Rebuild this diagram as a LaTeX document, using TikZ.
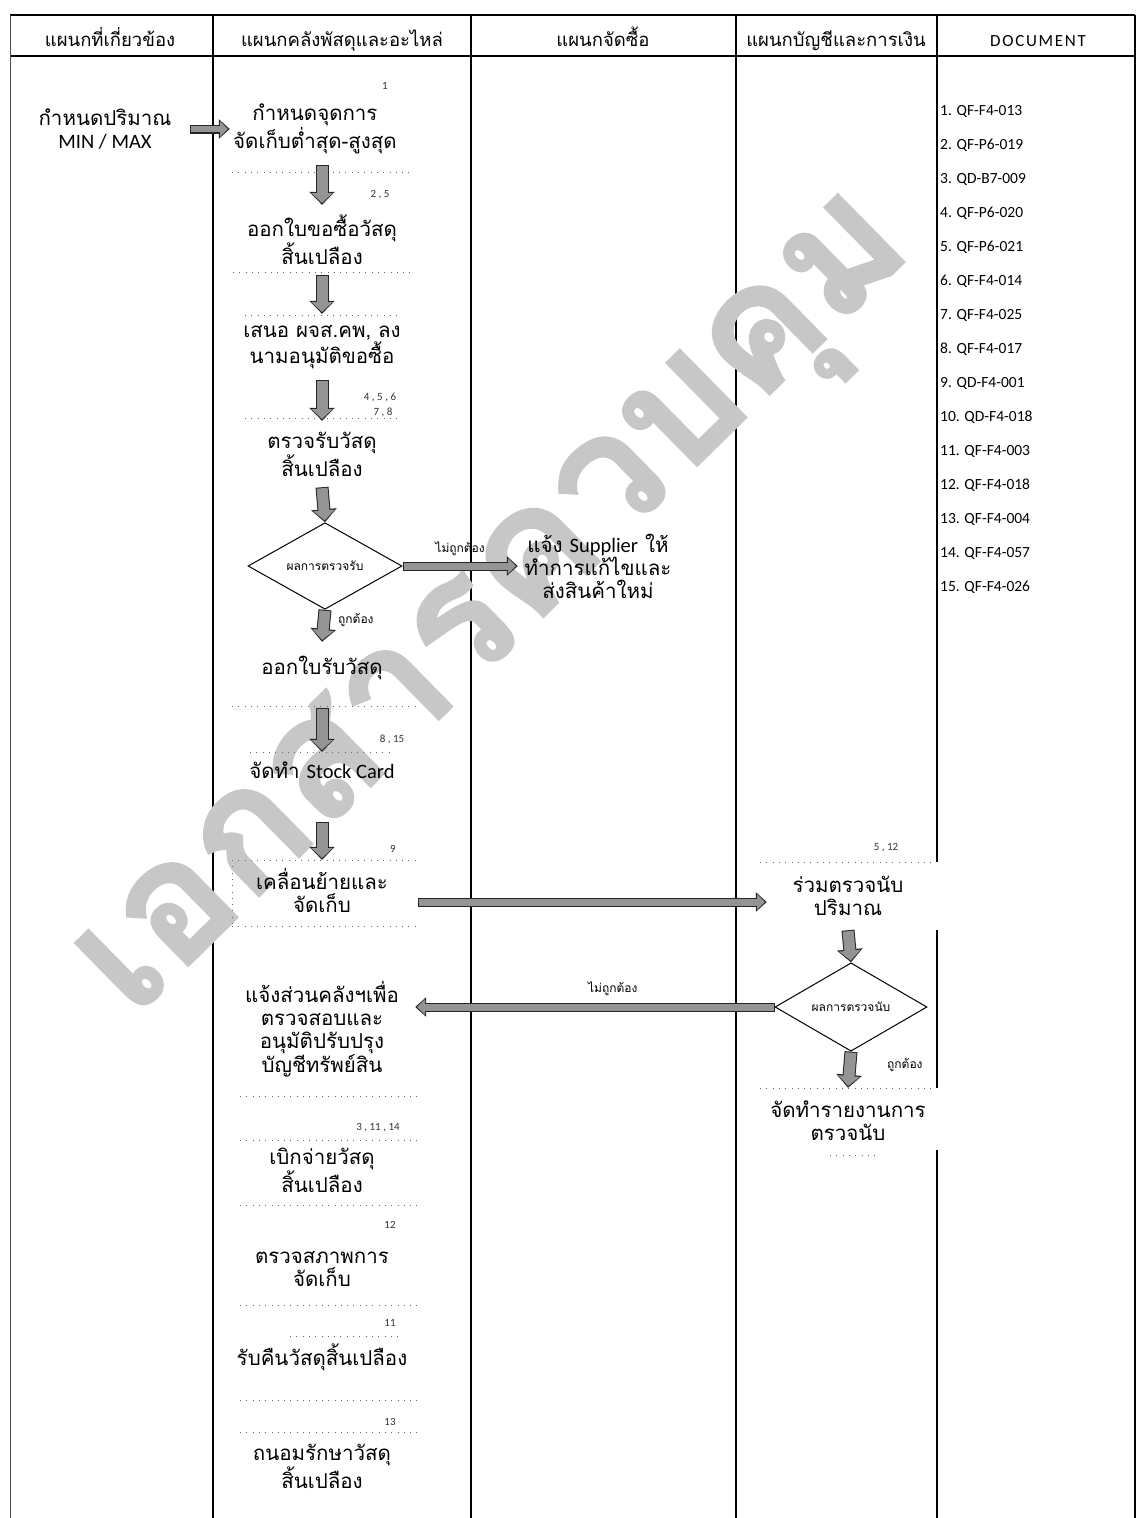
\documentclass[tikz,border=0pt]{standalone}
\usepackage{fontspec}
\setmainfont[Script=Thai]{Loma}
\newfontfamily\latinfont{Carlito}
\newfontfamily\wmfont[Script=Thai,FakeBold=1.5]{Loma}
\usetikzlibrary{shapes.geometric,arrows.meta}
\tikzset{
  txt/.style={align=center, inner sep=0pt, font=\fontsize{20.5}{23}\selectfont},
  hdr/.style={inner sep=0pt, anchor=base, font=\fontsize{18.5}{20}\selectfont},
  num/.style={inner sep=0pt, font=\latinfont\fontsize{11}{12}\selectfont, text=black!80},
  lbl/.style={inner sep=0pt, font=\fontsize{12}{14}\selectfont},
  doc/.style={anchor=west, inner sep=0pt, font=\latinfont\fontsize{15.5}{18}\selectfont},
  decision/.style={diamond, draw=black, line width=1pt, inner sep=0pt, font=\fontsize{12}{14}\selectfont},
  dots/.style={draw=black!60, line width=0.7pt, dash pattern=on 0.8pt off 5.5pt},
  vflow/.style={draw=black!42, line width=11pt, shorten <=1pt, shorten >=1.8pt,
     -{Triangle[length=10pt,width=21pt]},
     preaction={draw=black!85, line width=13pt, shorten <=0pt, shorten >=0pt,
       -{Triangle[length=13pt,width=25pt]}}},
  hflow/.style={draw=black!42, line width=7pt, shorten <=1pt, shorten >=1.8pt,
     -{Triangle[length=8pt,width=15pt]},
     preaction={draw=black!85, line width=9pt, shorten <=0pt, shorten >=0pt,
       -{Triangle[length=11pt,width=19pt]}}},
  colline/.style={draw=black, line width=1.1pt},
}
\begin{document}
\begin{tikzpicture}[x=1pt,y=-1pt]
\useasboundingbox (0,0) rectangle (1136,1518);
% table
\draw[colline] (10,15) -- (1135,15);
\draw[draw=black, line width=1.4pt] (10,56) -- (1135,56);
\draw[draw=black!70, line width=0.8pt] (10,15) -- (10,1518);
\draw[colline] (213,15) -- (213,1518);
\draw[colline] (471,15) -- (471,1518);
\draw[colline] (736,15) -- (736,1518);
\draw[colline] (937,15) -- (937,862);
\draw[colline] (937,930) -- (937,1088);
\draw[colline] (937,1150) -- (937,1518);
\draw[colline] (1135,15) -- (1135,1518);
% watermark
\node[rotate=44.5, text=black!22, font=\wmfont\fontsize{170}{170}\selectfont\bfseries] (wm) at (505,615) {เอกสารควบคุม};
% headers
\node[hdr] (h1) at (110,46) {แผนกที่เกี่ยวข้อง};
\node[hdr] (h2) at (342,46) {แผนกคลังพัสดุและอะไหล่};
\node[hdr] (h3) at (603,46) {แผนกจัดซื้อ};
\node[hdr] (h4) at (836,46) {แผนกบัญชีและการเงิน};
\node[hdr, font=\latinfont\fontsize{17}{18}\selectfont\addfontfeature{LetterSpace=10}] (h5) at (1038,46) {DOCUMENT};
% documents
\foreach \i/\t in {1/QF-F4-013,2/QF-P6-019,3/QD-B7-009,4/QF-P6-020,5/QF-P6-021,6/QF-F4-014,7/QF-F4-025,8/QF-F4-017,9/QD-F4-001,10/QD-F4-018,11/QF-F4-003,12/QF-F4-018,13/QF-F4-004,14/QF-F4-057,15/QF-F4-026}
  \node[doc] (doc\i) at (940,{111+34*(\i-1)}) {\i. \t};
% dotted box borders
\draw[dots] (232,172) -- (412,172);
\draw[dots] (233,272) -- (413,272);
\draw[dots] (245,315) -- (400,315);
\draw[dots] (245,418) -- (400,418);
\draw[dots] (232,706) -- (420,706);
\draw[dots] (250,752) -- (390,752);
\draw[dots] (232,860) -- (418,860);
\draw[dots] (232,926) -- (418,926);
\draw[dots] (232,860) -- (232,926);
\draw[dots] (240,1096) -- (420,1096);
\draw[dots] (240,1140) -- (420,1140);
\draw[dots] (240,1205) -- (420,1205);
\draw[dots] (240,1305) -- (420,1305);
\draw[dots] (290,1336) -- (400,1336);
\draw[dots] (240,1400) -- (420,1400);
\draw[dots] (240,1432) -- (420,1432);
\draw[dots] (760,862) -- (935,862);
\draw[dots] (760,1088) -- (935,1088);
\draw[dots] (830,1155) -- (880,1155);
% steps
\node[txt, minimum width=170] (minmax) at (105,129) {กำหนดปริมาณ\\{\latinfont MIN / MAX}};
\node[txt, minimum width=170, minimum height=72] (s1) at (315,129) {กำหนดจุดการ\\จัดเก็บต่ำสุด-สูงสุด};
\node[txt, minimum height=70] (s2) at (322,240) {ออกใบขอซื้อวัสดุ\\สิ้นเปลือง};
\node[txt, minimum height=66] (s3) at (322,347) {เสนอ ผจส.คพ, ลง\\นามอนุมัติขอซื้อ};
\node[txt, minimum height=66] (s4) at (322,454) {ตรวจรับวัสดุ\\สิ้นเปลือง};
\node[decision, minimum width=154, minimum height=72] (d1) at (325,566) {ผลการตรวจรับ};
\node[txt, minimum width=160] (sup) at (598,566) {แจ้ง {\latinfont Supplier} ให้\\ทำการแก้ไขและ\\ส่งสินค้าใหม่};
\node[txt, minimum height=52] (s5) at (322,668) {ออกใบรับวัสดุ};
\node[txt, minimum height=36] (s6) at (322,770) {จัดทำ {\latinfont Stock Card}};
\node[txt, minimum width=192, minimum height=62] (s7) at (322,891) {เคลื่อนย้ายและ\\จัดเก็บ};
\node[txt, minimum width=162, minimum height=68] (s8) at (848,896) {ร่วมตรวจนับ\\ปริมาณ};
\node[decision, minimum width=152, minimum height=76] (d2) at (851,1007) {ผลการตรวจนับ};
\node[txt, minimum width=186] (s9) at (322,1029) {แจ้งส่วนคลังฯเพื่อ\\ตรวจสอบและ\\อนุมัติปรับปรุง\\บัญชีทรัพย์สิน};
\node[txt, minimum height=66] (s10) at (848,1121) {จัดทำรายงานการ\\ตรวจนับ};
\node[txt] (s11) at (322,1170) {เบิกจ่ายวัสดุ\\สิ้นเปลือง};
\node[txt] (s12) at (322,1269) {ตรวจสภาพการ\\จัดเก็บ};
\node[txt] (s13) at (322,1357) {รับคืนวัสดุสิ้นเปลือง};
\node[txt] (s14) at (322,1466) {ถนอมรักษาวัสดุ\\สิ้นเปลือง};
% numbers
\node[num] (n1) at (385,86) {1};
\node[num] (n2) at (380,195) {2 , 5};
\node[num] (n3) at (380,397) {4 , 5 , 6};
\node[num] (n4) at (383,412) {7 , 8};
\node[num] (n5) at (392,739) {8 , 15};
\node[num] (n6) at (393,849) {9};
\node[num] (n7) at (886,848) {5 , 12};
\node[num] (n8) at (378,1128) {3 , 11 , 14};
\node[num] (n9) at (390,1225) {12};
\node[num] (n10) at (390,1323) {11};
\node[num] (n11) at (390,1422) {13};
% connectors
\draw[hflow, line width=6pt, preaction={line width=8pt}] (minmax.east) -- (s1.west);
\draw[vflow] (s1.south -| s2.north) -- (s2.north);
\draw[vflow] (s2.south) -- (s3.north);
\draw[vflow] (s3.south) -- (s4.north);
\draw[vflow] (s4.south) -- (d1.north);
\draw[hflow] (d1.east) -- node[lbl, above=7pt] (l1) {ไม่ถูกต้อง} (sup.west);
\draw[vflow] (d1.south) -- (s5.north);
\node[lbl, anchor=west] (l2) at ([xshift=13pt,yshift=-10pt]d1.south) {ถูกต้อง};
\draw[vflow] ([yshift=-14pt]s5.south) -- (s6.north);
\draw[vflow] ([yshift=-34pt]s6.south) -- (s7.north);
\coordinate (s7out) at ([yshift=-11pt]s7.east);
\draw[hflow] (s7out) -- (s7out -| s8.west);
\draw[vflow] (s8.south) -- (d2.north);
\draw[hflow] (d2.west) -- node[lbl, above=8pt, pos=0.45] (l3) {ไม่ถูกต้อง} (d2.west -| s9.east);
\draw[vflow] (d2.south) -- (s10.north);
\node[lbl, anchor=west] (l4) at ([xshift=36pt,yshift=-13pt]d2.south) {ถูกต้อง};
\end{tikzpicture}
\end{document}
